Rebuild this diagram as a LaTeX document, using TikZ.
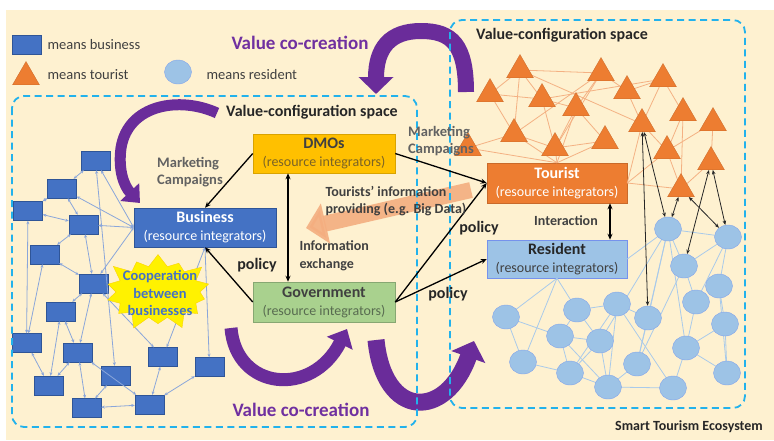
\documentclass[tikz,border=0pt]{standalone}
\usepackage{fontspec}
\setmainfont{Carlito}
\usetikzlibrary{arrows.meta,shapes.geometric,shapes.symbols}

\definecolor{bgcream}{HTML}{FEF1D0}
\definecolor{dashcyan}{HTML}{22B2EC}
\definecolor{vcpurple}{HTML}{6A2C9A}
\definecolor{vctext}{HTML}{7030A0}
\definecolor{bizblue}{HTML}{4472C4}
\definecolor{bizedge}{HTML}{2F5597}
\definecolor{netblue}{HTML}{8AA6DA}
\definecolor{dmogold}{HTML}{FFC000}
\definecolor{dmosub}{HTML}{7A6326}
\definecolor{govgreen}{HTML}{A9D18E}
\definecolor{govsub}{HTML}{586B50}
\definecolor{tourorange}{HTML}{ED7D31}
\definecolor{tourline}{HTML}{F4B183}
\definecolor{infoarrow}{HTML}{F4AE80}
\definecolor{resblue}{HTML}{9DC3E6}
\definecolor{resline}{HTML}{A9CAEA}
\definecolor{darktext}{HTML}{404040}
\definecolor{graytext}{HTML}{626262}
\definecolor{coopblue}{HTML}{4472C4}

\newcommand\fsz[2]{\fontsize{#1}{#2}\selectfont}

\tikzset{
  dashbox/.style={draw=dashcyan, line width=1.8pt, dash pattern=on 7pt off 4.5pt, rounded corners=12pt},
  bizcell/.style={rectangle, fill=bizblue, draw=bizedge, line width=.4pt,
    minimum width=29pt, minimum height=19pt, inner sep=0pt},
  tourtri/.style={regular polygon, regular polygon sides=3, minimum size=31pt, inner sep=0pt,
    fill=tourorange, draw=tourorange!85!black, line width=.3pt},
  resdot/.style={ellipse, minimum width=27pt, minimum height=24pt, inner sep=0pt,
    fill=resblue, draw=resblue!85!blue, line width=.4pt},
  netarrow/.style={draw=netblue, line width=.8pt,
    {Stealth[length=3.5pt,width=3pt]}-{Stealth[length=3.5pt,width=3pt]}},
  triline/.style={draw=tourline, line width=.8pt},
  dotline/.style={draw=resline, line width=.8pt},
  flow/.style={draw=black, line width=1.3pt, -{Stealth[length=6pt,width=5pt]}},
  twoflow/.style={draw=black, line width=1.3pt,
    {Stealth[length=6pt,width=5pt]}-{Stealth[length=6pt,width=5pt]}},
  linkflow/.style={draw=black!85, line width=.8pt,
    {Stealth[length=4.5pt,width=3.5pt]}-{Stealth[length=4.5pt,width=3.5pt]}},
  mainbox/.style={rectangle, minimum width=142pt, minimum height=39pt, align=center,
    inner sep=0pt, line width=.5pt, font=\fsz{14}{18}},
  legendtext/.style={anchor=west, font=\fsz{14.5}{16}, text=darktext},
  boldlabel/.style={font=\bfseries\fsz{14}{17.5}, text=darktext, align=left},
  policylabel/.style={font=\bfseries\fsz{16}{18}, text=black!85},
  spacelabel/.style={font=\bfseries\fsz{16}{18}, text=black!85},
  cocreation/.style={font=\bfseries\fsz{19}{21}, text=vctext},
  campaign/.style={font=\bfseries\fsz{14.5}{17}, text=graytext, align=left},
}

\begin{document}
\begin{tikzpicture}[x=1pt,y=-1pt]
\useasboundingbox (0,0) rectangle (774,440);
\fill[white] (0,0) rectangle (774,440);
\fill[bgcream] (6,10) rectangle (774,440);

% ---------- legend ----------
\node[bizcell] (legbiz) at (26.5,44.5) {};
\node[legendtext] (legbiztext) at (44,44.5) {means business};
\node[tourtri] (legtri) at (26,77) {};
\node[legendtext] (legtritext) at (44,74.5) {means tourist};
\node[resdot] (legdot) at (178,72) {};
\node[legendtext] (legdottext) at (203,74.5) {means resident};

% ---------- main actors ----------
\node[mainbox, fill=dmogold, draw=dmogold!85!black, text=darktext] (dmo) at (324,153.5)
  {{\bfseries\fsz{16}{18}DMOs}\\{\color{dmosub}(resource integrators)}};
\node[mainbox, fill=bizblue, draw=bizedge, text=white] (biz) at (205,227.5)
  {{\bfseries\fsz{16}{18}Business}\\(resource integrators)};
\node[mainbox, fill=govgreen, draw=govgreen!80!black, text=darktext, minimum height=40pt] (gov) at (324,302)
  {{\bfseries\fsz{16}{18}Government}\\{\color{govsub}(resource integrators)}};
\node[mainbox, fill=tourorange, draw=tourorange!85!black, text=white, minimum width=140pt, minimum height=40pt] (tour) at (557,183)
  {{\bfseries\fsz{16}{18}Tourist}\\(resource integrators)};
\node[mainbox, fill=resblue, draw=resblue!75!blue, text=darktext, minimum width=140pt, minimum height=38pt] (res) at (557,259)
  {{\bfseries\fsz{16}{18}\color{black!85}Resident}\\(resource integrators)};

% ---------- business network ----------
\foreach \n/\x/\y in {1/95.5/160.5, 2/62/188.5, 3/28/211, 4/83.5/224.5, 5/44.5/254.5,
  6/93.5/283.5, 7/61/311.5, 8/26.5/343, 9/78/352.5, 10/49/385.5, 11/115.5/375.5,
  12/163/357, 13/209.5/367, 14/86.5/408, 15/149.5/404.5}
  \node[bizcell] (b\n) at (\x,\y) {};

\foreach \a/\b in {b1/b2, b2/b3, b2/b4, b3/b4, b4/b5, b4/b6, b5/b6, b6/b7, b3/b8, b5/b8,
  b7/b10, b8/b10, b1/b11, b6/b12, b9/b14, b14/b15, b15/b12, b15/b13, b9/b10, b6/b9,
  b9/b15, b7/b9, b11/b14}
  \draw[netarrow] (\a) -- (\b);
\foreach \b in {b1, b2, b4, b6}
  \draw[netarrow] (biz.west) -- (\b);
\foreach \b in {b12, b13}
  \draw[netarrow] (biz.south) -- (\b);

% ---------- tourist network ----------
\foreach \n/\x/\y in {1/520/70, 2/490/94, 3/601/73, 4/542/99, 5/576/108, 6/627/91,
  7/663/79, 8/514/134, 9/555/148, 10/605/141, 11/642/124, 12/683/113, 13/713/123,
  14/468/148, 15/667/151, 16/711/162, 17/681/189}
  \coordinate (tc\n) at (\x,\y);

\foreach \a/\b in {1/3, 1/2, 1/4, 1/8, 1/11, 2/4, 2/8, 3/5, 3/6, 3/9, 3/8, 4/7, 4/9,
  4/5, 5/9, 5/10, 6/7, 6/11, 7/12, 7/11, 8/14, 8/9, 12/15, 13/15, 11/15, 12/17,
  13/16, 16/17, 15/17, 9/10}
  \draw[triline] (tc\a) -- (tc\b);
\foreach \b in {8, 9, 10, 14, 5}
  \draw[triline] (tour.north) -- (tc\b);
\foreach \b in {11, 15, 17}
  \draw[triline] (tour.east) -- (tc\b);

\foreach \n in {1,...,17}
  \node[tourtri] (t\n) at (tc\n) {};

% ---------- resident network ----------
\foreach \n/\x/\y in {1/668/229, 2/728/237, 3/684/266, 4/719/286, 5/696/302, 6/648/318,
  7/725/324, 8/506/317, 9/577/310, 10/617/304, 11/560/336, 12/600/341, 13/523/362,
  14/686/348, 15/637/364, 16/570/373, 17/608/387, 18/673/388, 19/727/373}
  \coordinate (cc\n) at (\x,\y);

\foreach \a/\b in {8/11, 8/13, 9/11, 9/10, 9/12, 10/6, 10/16, 10/17, 10/18, 11/12,
  11/16, 11/17, 12/16, 12/17, 16/17, 6/15, 6/1, 15/17, 15/1, 15/3, 17/18, 18/14,
  14/5, 14/7, 14/19, 14/1, 1/2, 1/3, 2/3, 2/4, 2/5, 4/7, 3/5, 7/19, 19/4, 1/12, 13/16}
  \draw[dotline] (cc\a) -- (cc\b);
\foreach \b in {8, 13, 9}
  \draw[dotline] (res.south) -- (cc\b);
\draw[dotline] (res.east) -- (cc1);

\foreach \n in {1,...,19}
  \node[resdot] (c\n) at (cc\n) {};

% tourist <-> resident links
\foreach \a/\b in {t11/c1, t11/c6, t17/c1, t17/c2, t16/c3, t16/c2}
  \draw[linkflow] (\a) -- (\b);

% ---------- value co-creation arrows ----------
\coordinate (toptail) at (466,92);
\coordinate (toptip) at (376,94);
\draw[vcpurple, line width=16pt, -{Triangle[length=17pt,width=34pt]}]
  (toptail) .. controls (466,45) and (452,31) .. (421,31)
  .. controls (390,31) and (376,48) .. (toptip);

\coordinate (lefttail) at (217,113);
\coordinate (lefttip) at (140,203);
\draw[vcpurple, line width=11pt, -{Triangle[length=15pt,width=25pt]}]
  (lefttail) .. controls (180,96) and (128,104) .. (121,148)
  .. controls (118,170) and (124,186) .. (lefttip);

\coordinate (lowtaila) at (231,328);
\coordinate (lowtipa) at (347,329);
\draw[vcpurple, line width=13pt, -{Triangle[length=16pt,width=28pt]}]
  (lowtaila) .. controls (236,390) and (312,398) .. (lowtipa);

\coordinate (lowtailb) at (376,340);
\coordinate (lowtipb) at (474,341);
\draw[vcpurple, line width=17pt, -{Triangle[length=17pt,width=35pt]}]
  (lowtailb) .. controls (384,420) and (446,420) .. (lowtipb);

% ---------- tourists' information arrow ----------
\coordinate (infotail) at (471,190);
\coordinate (infotip) at (306,228);
\draw[infoarrow, opacity=.9, line width=16pt, -{Triangle[length=20pt,width=40pt]}]
  (infotail) -- (infotip);

% ---------- value-configuration spaces ----------
\draw[dashbox] (12,96) rectangle (417,427);
\draw[dashbox] (450,20) rectangle (745,408);

% ---------- flows between actors ----------
\draw[flow] (dmo.west) -- (biz.north);
\draw[flow] (gov.west) -- (biz.south);
\draw[twoflow] ([xshift=-36pt]dmo.south) -- ([xshift=-36pt]gov.north);
\draw[flow] (dmo.east) -- (tour.west);
\draw[flow] (gov.east) -- (tour.west);
\draw[flow] (gov.east) -- (res.west);
\draw[twoflow] ([xshift=53pt]tour.south) -- ([xshift=53pt]res.north);

% ---------- cooperation burst ----------
\node[starburst, fill=yellow, draw=yellow!70!orange, line width=.4pt, minimum width=116pt,
  minimum height=84pt, starburst points=14, starburst point height=16pt, inner sep=0pt]
  (burst) at (158,292) {};
\node[font=\bfseries\fsz{14.5}{17.5}, text=coopblue, align=center] (coop) at (160,293)
  {Cooperation\\between\\businesses};

% ---------- labels ----------
\node[cocreation] (cotop) at (300,43) {Value co-creation};
\node[cocreation] (cobottom) at (301,410) {Value co-creation};
\node[spacelabel] (spaceleft) at (312,112) {Value-configuration space};
\node[spacelabel] (spaceright) at (562,35) {Value-configuration space};
\node[campaign] (campleft) at (190,172) {Marketing\\Campaigns};
\node[campaign] (campright) at (441,141) {Marketing\\Campaigns};
\node[boldlabel, anchor=west] (infotext) at (322,201)
  {Tourists’ information\\providing (e.g. Big Data)};
\node[boldlabel, anchor=west] (exchtext) at (296,256) {Information\\exchange};
\node[boldlabel] (interact) at (566,221) {Interaction};
\node[policylabel] (policya) at (257,265) {policy};
\node[policylabel] (policyb) at (479,228) {policy};
\node[policylabel] (policyc) at (448,294) {policy};
\node[font=\bfseries\fsz{14}{16}, text=black!85] (ecosys) at (689,427) {Smart Tourism Ecosystem};
\end{tikzpicture}
\end{document}
